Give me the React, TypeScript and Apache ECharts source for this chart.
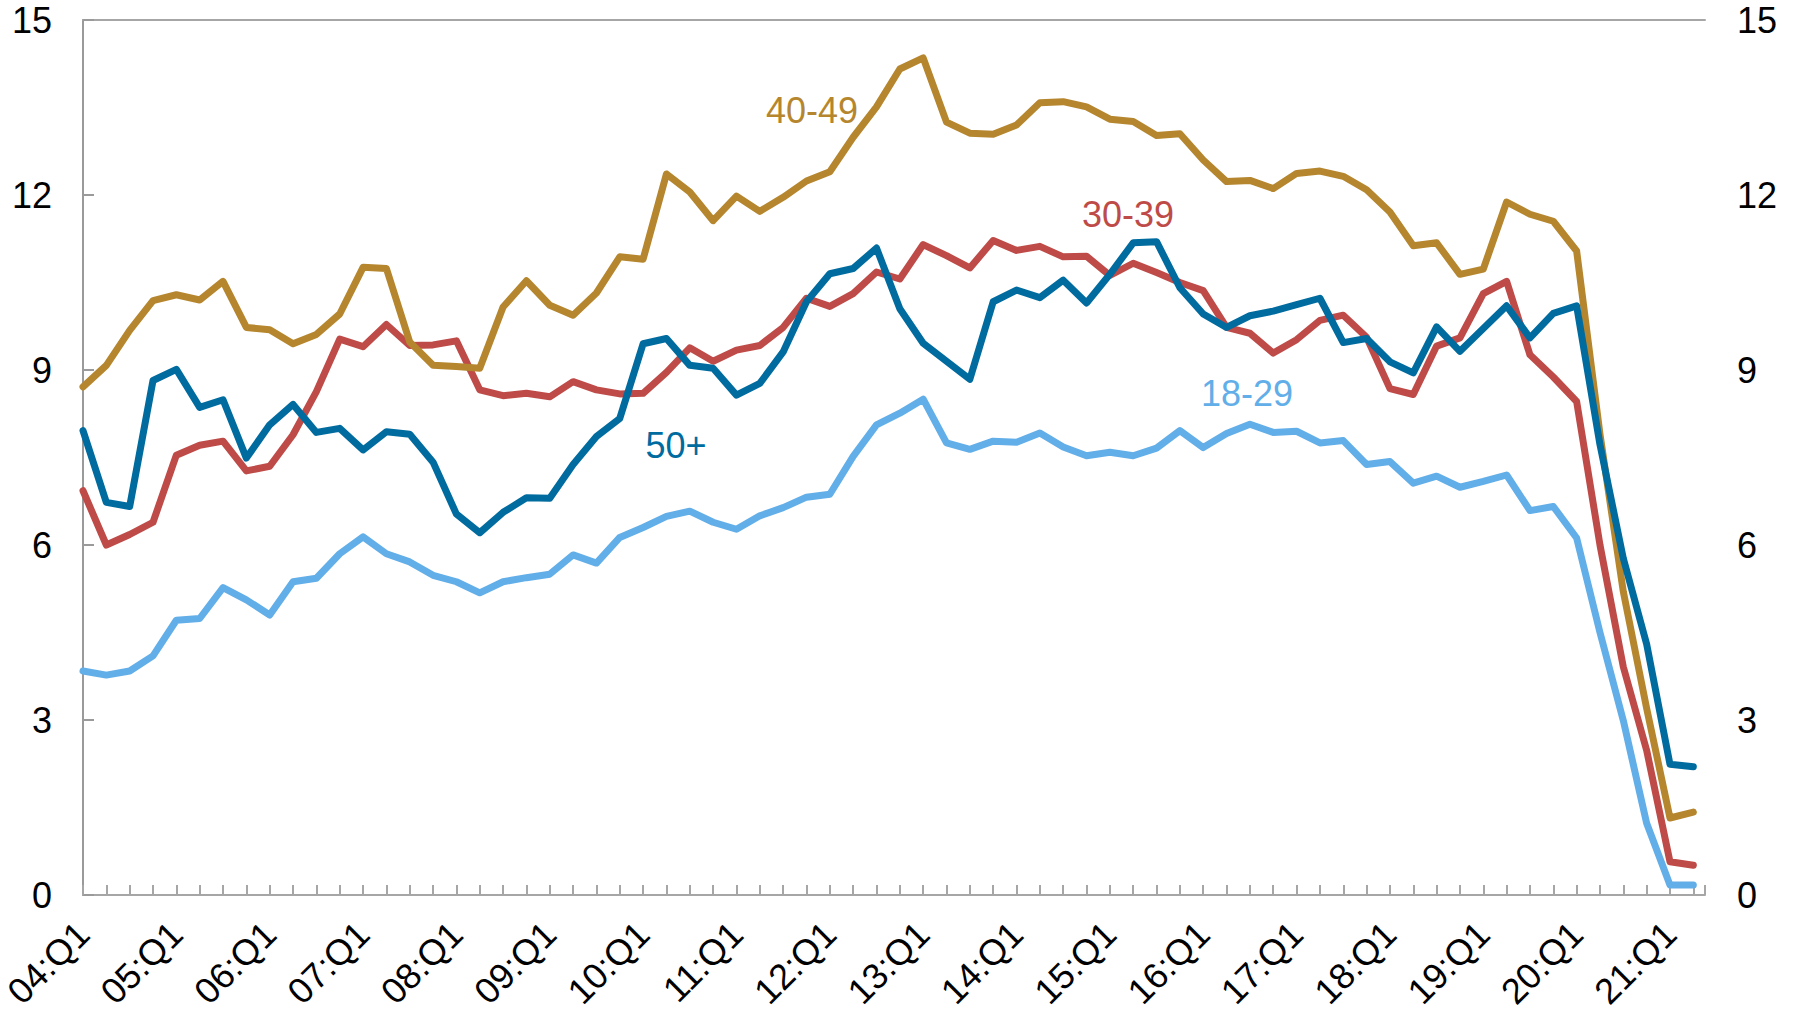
import React, { useEffect, useRef } from "react";
import * as echarts from "echarts";

const YEARS: string[] = ["04","05","06","07","08","09","10","11","12","13","14","15","16","17","18","19","20","21"];
const QUARTERS: string[] = [];
for (const y of YEARS) for (let q = 1; q <= 4; q++) QUARTERS.push(`${y}:Q${q}`);
const N = 70; // 04:Q1 .. 21:Q2
const CATEGORIES = QUARTERS.slice(0, N);

const AGE_18_29: number[] = [
  3.84, 3.77, 3.84, 4.10, 4.71, 4.74, 5.27, 5.06, 4.80, 5.37,
  5.43, 5.85, 6.14, 5.85, 5.71, 5.48, 5.37, 5.18, 5.37, 5.44,
  5.50, 5.83, 5.69, 6.13, 6.30, 6.49, 6.58, 6.39, 6.27, 6.50,
  6.64, 6.82, 6.87, 7.52, 8.06, 8.26, 8.50, 7.75, 7.64, 7.78,
  7.76, 7.92, 7.68, 7.53, 7.59, 7.53, 7.66, 7.96, 7.67, 7.91,
  8.07, 7.93, 7.95, 7.75, 7.79, 7.38, 7.43, 7.06, 7.18, 6.99,
  7.09, 7.20, 6.59, 6.66, 6.12, 4.50, 2.99, 1.23, 0.17, 0.17,
];
const AGE_30_39: number[] = [
  6.93, 6.00, 6.18, 6.39, 7.54, 7.71, 7.78, 7.27, 7.35, 7.89,
  8.63, 9.53, 9.40, 9.78, 9.42, 9.43, 9.50, 8.66, 8.56, 8.60,
  8.54, 8.80, 8.66, 8.59, 8.60, 8.96, 9.38, 9.15, 9.34, 9.42,
  9.73, 10.23, 10.09, 10.31, 10.68, 10.56, 11.15, 10.96, 10.75, 11.22,
  11.05, 11.12, 10.94, 10.95, 10.62, 10.83, 10.67, 10.50, 10.36, 9.73,
  9.63, 9.29, 9.52, 9.85, 9.94, 9.56, 8.68, 8.58, 9.41, 9.55,
  10.31, 10.52, 9.26, 8.88, 8.46, 6.00, 3.91, 2.48, 0.57, 0.51,
];
const AGE_40_49: number[] = [
  8.71, 9.08, 9.68, 10.19, 10.29, 10.20, 10.52, 9.73, 9.69, 9.45,
  9.61, 9.96, 10.76, 10.74, 9.48, 9.08, 9.06, 9.03, 10.08, 10.53,
  10.11, 9.94, 10.32, 10.94, 10.90, 12.36, 12.05, 11.56, 11.98, 11.72,
  11.96, 12.24, 12.40, 12.99, 13.51, 14.16, 14.35, 13.25, 13.06, 13.04,
  13.20, 13.58, 13.60, 13.51, 13.30, 13.26, 13.02, 13.05, 12.60, 12.23,
  12.25, 12.11, 12.37, 12.41, 12.32, 12.09, 11.71, 11.13, 11.18, 10.64,
  10.73, 11.88, 11.67, 11.55, 11.04, 7.90, 5.20, 3.20, 1.32, 1.42,
];
const AGE_50_PLUS: number[] = [
  7.96, 6.73, 6.66, 8.82, 9.01, 8.36, 8.49, 7.49, 8.06, 8.41,
  7.93, 8.00, 7.63, 7.94, 7.90, 7.42, 6.53, 6.21, 6.56, 6.81,
  6.80, 7.38, 7.86, 8.17, 9.45, 9.54, 9.08, 9.03, 8.57, 8.77,
  9.31, 10.17, 10.65, 10.74, 11.09, 10.05, 9.46, 9.15, 8.84, 10.17,
  10.37, 10.24, 10.54, 10.15, 10.64, 11.18, 11.20, 10.41, 9.96, 9.73,
  9.93, 10.01, 10.12, 10.23, 9.47, 9.54, 9.14, 8.95, 9.74, 9.32,
  9.71, 10.10, 9.55, 9.97, 10.10, 7.72, 5.77, 4.30, 2.24, 2.20,
];

const Y_TICKS: number[] = [0, 3, 6, 9, 12, 15];
const SERIES_NAMES: string[] = ["18-29", "30-39", "40-49", "50+"];
const COLORS: string[] = ["#62AEE8", "#BE4B48", "#B5862E", "#006B9F"];

const FONT = "'Liberation Sans', Arial, Helvetica, sans-serif";
const AXIS_COLOR = "#A6A6A6";

export default function App() {
  const ref = useRef<HTMLDivElement>(null);

  useEffect(() => {
    if (!ref.current) return;
    const chart = echarts.init(ref.current, undefined, { renderer: "svg" });
    const seriesData = [AGE_18_29, AGE_30_39, AGE_40_49, AGE_50_PLUS];

    const xFormatter = (v: number) =>
      Number.isInteger(v) && v % 4 === 0 && v < CATEGORIES.length ? CATEGORIES[v] : "";

    const yMax = Y_TICKS[Y_TICKS.length - 1];
    const yInterval = Y_TICKS[1] - Y_TICKS[0];

    const labelStyle = { fontSize: 36, color: "#000", fontFamily: FONT };

    chart.setOption({
      animation: false,
      backgroundColor: "#ffffff",
      grid: { left: 83, right: 92, top: 20, bottom: 122, containLabel: false, outerBoundsMode: "none" },
      xAxis: [
        {
          type: "value",
          position: "bottom",
          min: 0,
          max: CATEGORIES.length - 0.5,
          interval: 1,
          axisLine: { show: true, onZero: false, lineStyle: { color: AXIS_COLOR, width: 2 } },
          axisTick: { show: true, inside: true, length: 10, lineStyle: { color: AXIS_COLOR, width: 2 } },
          splitLine: { show: false },
          axisLabel: {
            ...labelStyle,
            fontSize: 36,
            formatter: xFormatter,
            rotate: 45,
            margin: 33,
            align: "right",
            verticalAlign: "middle",
            padding: [16, 0, 0, 0],
          },
        },
        {
          type: "value",
          position: "top",
          min: 0,
          max: CATEGORIES.length - 0.5,
          interval: 1,
          axisLine: { show: true, onZero: false, lineStyle: { color: AXIS_COLOR, width: 2 } },
          axisTick: { show: false },
          axisLabel: { show: false },
          splitLine: { show: false },
        },
      ],
      yAxis: [
        {
          type: "value",
          position: "left",
          min: 0,
          max: yMax,
          interval: yInterval,
          axisLine: { show: true, lineStyle: { color: AXIS_COLOR, width: 2 } },
          axisTick: { show: true, inside: true, length: 11, lineStyle: { color: AXIS_COLOR, width: 2 } },
          splitLine: { show: false },
          axisLabel: { ...labelStyle, margin: 31 },
        },
        {
          type: "value",
          position: "right",
          min: 0,
          max: yMax,
          interval: yInterval,
          axisLine: { show: true, lineStyle: { color: "#9A9A9A", width: 2 } },
          axisTick: { show: true, inside: false, length: 11, lineStyle: { color: "#9A9A9A", width: 2 } },
          splitLine: { show: false },
          axisLabel: { ...labelStyle, margin: 32 },
        },
      ],
      series: seriesData.map((vals, k) => ({
        name: SERIES_NAMES[k],
        type: "line",
        xAxisIndex: 0,
        yAxisIndex: 0,
        data: vals.map((v, i) => [i, v]),
        showSymbol: false,
        symbol: "none",
        lineStyle: { color: COLORS[k], width: 7, cap: "round", join: "round" },
        z: 2 + k,
      })),
      graphic: [
        { type: "text", x: 812, y: 110, style: { text: "40-49", fill: COLORS[2], font: `36px ${FONT}`, align: "center", verticalAlign: "middle" } },
        { type: "text", x: 1128, y: 214, style: { text: "30-39", fill: COLORS[1], font: `36px ${FONT}`, align: "center", verticalAlign: "middle" } },
        { type: "text", x: 1247, y: 393, style: { text: "18-29", fill: COLORS[0], font: `36px ${FONT}`, align: "center", verticalAlign: "middle" } },
        { type: "text", x: 676, y: 445, style: { text: "50+", fill: COLORS[3], font: `36px ${FONT}`, align: "center", verticalAlign: "middle" } },
      ],
    });

    return () => chart.dispose();
  }, []);

  return (
    <div
      ref={ref}
      style={{ position: "fixed", left: 0, top: 0, width: 1797, height: 1017, background: "#fff" }}
    />
  );
}
